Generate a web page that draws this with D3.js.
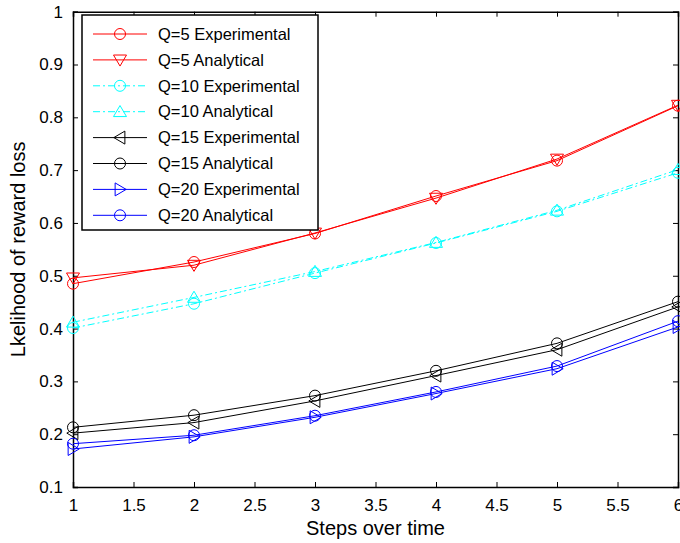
<!DOCTYPE html>
<html><head><meta charset="utf-8">
<script src="https://cdn.jsdelivr.net/npm/d3@7/dist/d3.min.js"></script>
<style>
html,body{margin:0;padding:0;background:#fff;}
text{font-family:"Liberation Sans",Arial,Helvetica,sans-serif;fill:#000;}
</style></head>
<body>
<svg id="c" width="680" height="543"></svg>
<script>
const steps = [1, 2, 3, 4, 5, 6];
const q5Exp  = [0.485, 0.526, 0.580, 0.651, 0.718, 0.822];
const q5Ana  = [0.496, 0.520, 0.581, 0.647, 0.721, 0.823];
const q10Exp = [0.401, 0.447, 0.505, 0.562, 0.622, 0.695];
const q10Ana = [0.412, 0.459, 0.508, 0.563, 0.624, 0.701];
const q15Exp = [0.202, 0.222, 0.263, 0.311, 0.360, 0.441];
const q15Ana = [0.213, 0.236, 0.273, 0.320, 0.372, 0.451];
const q20Exp = [0.172, 0.195, 0.232, 0.277, 0.324, 0.403];
const q20Ana = [0.182, 0.198, 0.235, 0.280, 0.329, 0.414];
const xTicks = [1, 1.5, 2, 2.5, 3, 3.5, 4, 4.5, 5, 5.5, 6];
const yTicks = [0.1, 0.2, 0.3, 0.4, 0.5, 0.6, 0.7, 0.8, 0.9, 1];
const seriesNames = ["Q=5 Experimental","Q=5 Analytical","Q=10 Experimental","Q=10 Analytical",
                     "Q=15 Experimental","Q=15 Analytical","Q=20 Experimental","Q=20 Analytical"];
const seriesValues = [q5Exp,q5Ana,q10Exp,q10Ana,q15Exp,q15Ana,q20Exp,q20Ana];
const seriesColors = ["#ff0000","#ff0000","#00ffff","#00ffff","#000000","#000000","#0000ff","#0000ff"];
const seriesMarkers = ["circle","down","circle","up","left","circle","right","circle"];
const seriesDash = [null,null,"7,3,2,3","7,3,2,3",null,null,null,null];

const L = 73, R = 678, T = 11.7, B = 487;
const x = d3.scaleLinear().domain([1, 6]).range([L, R]);
const y = d3.scaleLinear().domain([0.1, 1]).range([B, T]);
const svg = d3.select("#c");

function markerPath(type, s) {
  const h = s;
  if (type === "circle") return null;
  if (type === "down") return `M${-h},${-h*0.75}L${h},${-h*0.75}L0,${h*0.95}Z`;
  if (type === "up") return `M${-h},${h*0.75}L${h},${h*0.75}L0,${-h*0.95}Z`;
  if (type === "left") return `M${h*0.75},${-h}L${h*0.75},${h}L${-h*0.95},0Z`;
  if (type === "right") return `M${-h*0.75},${-h}L${-h*0.75},${h}L${h*0.95},0Z`;
}
function drawMarker(g, type, cx, cy, color) {
  if (type === "circle") {
    g.append("circle").attr("cx", cx).attr("cy", cy).attr("r", 5.5)
      .attr("fill", "none").attr("stroke", color).attr("stroke-width", 1);
  } else {
    g.append("path").attr("d", markerPath(type, 6.5))
      .attr("transform", `translate(${cx},${cy})`)
      .attr("fill", "none").attr("stroke", color).attr("stroke-width", 1);
  }
}

// axes box with inward ticks
const axB = svg.append("g").attr("transform", `translate(0,${B})`)
  .call(d3.axisBottom(x).tickValues(xTicks).tickSize(-5).tickPadding(12).tickFormat(d3.format("")));
const axT = svg.append("g").attr("transform", `translate(0,${T})`)
  .call(d3.axisTop(x).tickValues(xTicks).tickSize(-5).tickFormat(""));
const axLf = svg.append("g").attr("transform", `translate(${L},0)`)
  .call(d3.axisLeft(y).tickValues(yTicks).tickSize(-5).tickPadding(10).tickFormat(d3.format("")));
const axRt = svg.append("g").attr("transform", `translate(${R},0)`)
  .call(d3.axisRight(y).tickValues(yTicks).tickSize(-5).tickFormat(""));
[axB, axT, axLf, axRt].forEach(a => {
  a.select(".domain").attr("stroke", "#000").attr("stroke-width", 1.5);
  a.selectAll(".tick line").attr("stroke", "#000").attr("stroke-width", 1);
  a.selectAll("text").attr("font-size", 17).attr("font-family", "Liberation Sans, Arial, sans-serif").attr("fill", "#000");
});
axB.selectAll(".tick text").attr("dy", "0.71em");

// series
const line = d3.line().x((d, i) => x(steps[i])).y(d => y(d));
seriesValues.forEach((vals, k) => {
  const g = svg.append("g");
  g.append("path").datum(vals).attr("d", line).attr("fill", "none")
    .attr("stroke", seriesColors[k]).attr("stroke-width", 1)
    .attr("stroke-dasharray", seriesDash[k]);
  vals.forEach((v, i) => drawMarker(g, seriesMarkers[k], x(steps[i]), y(v), seriesColors[k]));
});

// legend
const lg = svg.append("g");
lg.append("rect").attr("x", 82).attr("y", 15).attr("width", 236).attr("height", 215)
  .attr("fill", "#fff").attr("stroke", "#000").attr("stroke-width", 1.5);
seriesNames.forEach((name, k) => {
  const yy = 34 + k * 25.9;
  lg.append("line").attr("x1", 93).attr("x2", 147).attr("y1", yy).attr("y2", yy)
    .attr("stroke", seriesColors[k]).attr("stroke-width", 1)
    .attr("stroke-dasharray", seriesDash[k]);
  drawMarker(lg, seriesMarkers[k], 120, yy, seriesColors[k]);
  lg.append("text").attr("x", 158).attr("y", yy).attr("dy", "0.35em")
    .attr("font-size", 16.5).text(name);
});

// axis titles
svg.append("text").attr("x", (L + R) / 2).attr("y", 535).attr("text-anchor", "middle")
  .attr("font-size", 20).text("Steps over time");
svg.append("text").attr("transform", `translate(25,${(T + B) / 2}) rotate(-90)`)
  .attr("text-anchor", "middle").attr("font-size", 20).text("Lkelihood of reward loss");
</script>
</body></html>
